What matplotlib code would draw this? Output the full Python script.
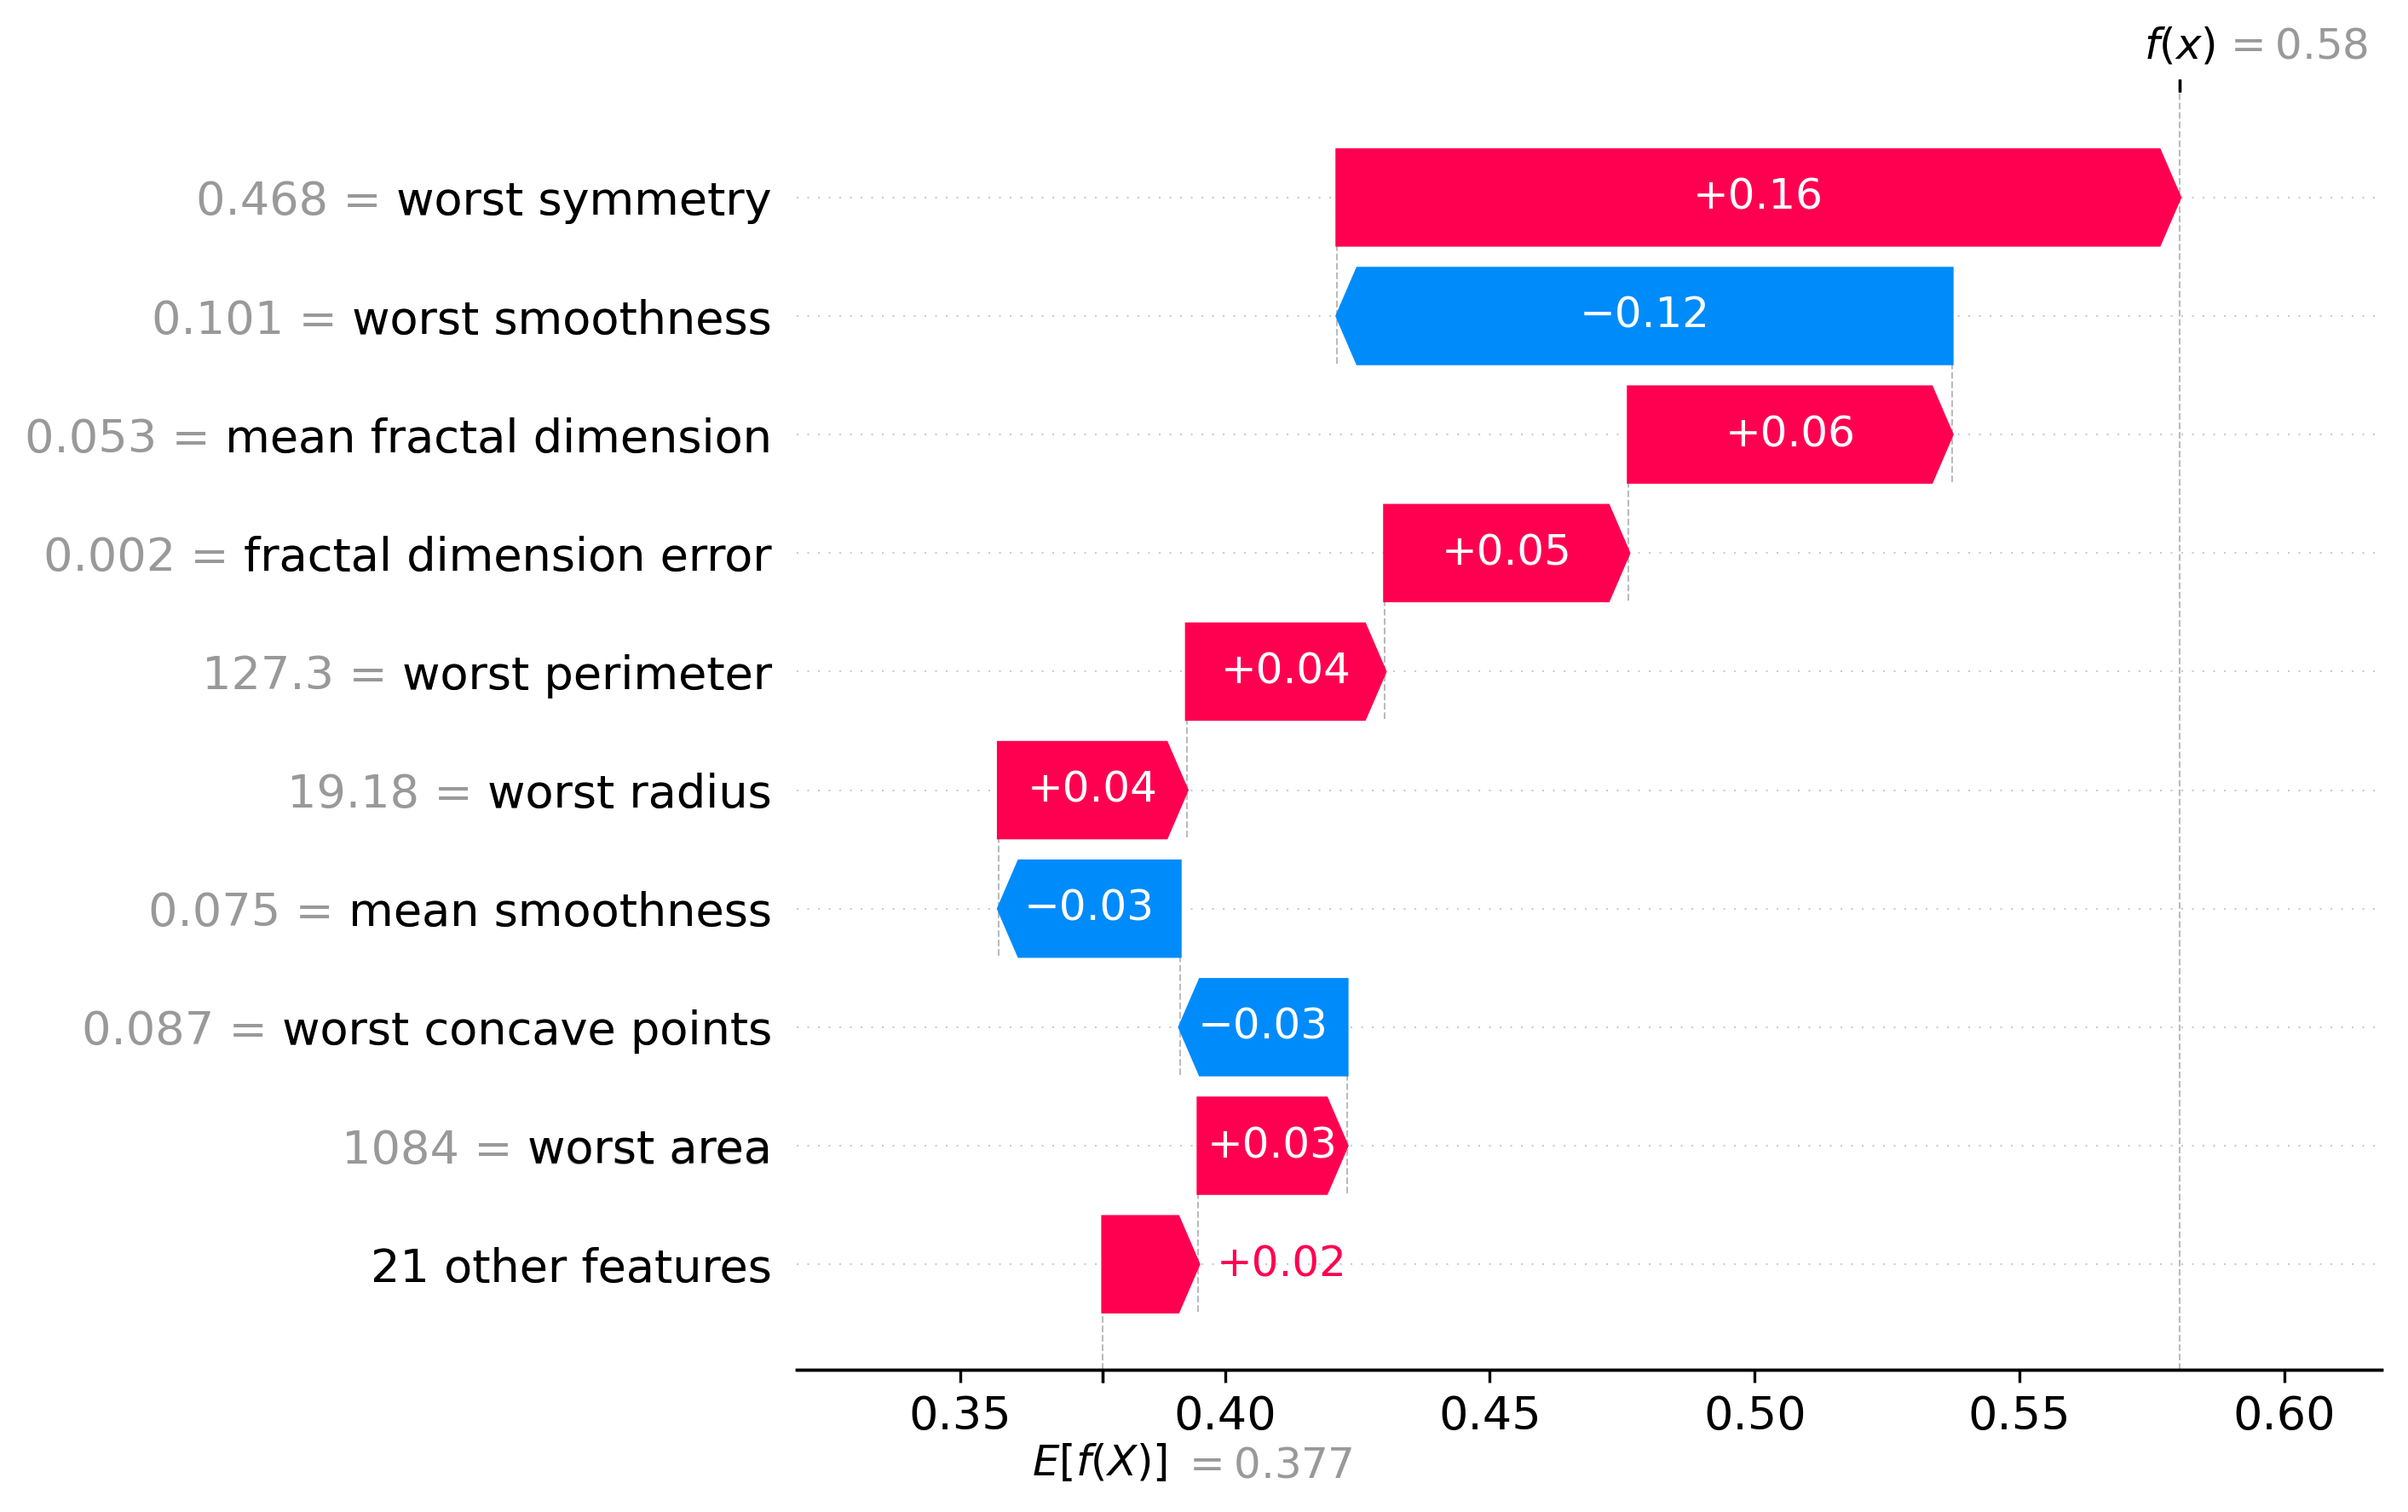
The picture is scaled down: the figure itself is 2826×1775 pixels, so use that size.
import re

import matplotlib
matplotlib.use("Agg")
import matplotlib.pyplot as plt
import matplotlib.transforms as mtransforms
import numpy as np

# SHAP waterfall for one sample (breast cancer model)
feature_names = ["worst symmetry", "worst smoothness", "mean fractal dimension",
                 "fractal dimension error", "worst perimeter", "worst radius",
                 "mean smoothness", "worst concave points", "worst area"]
feature_values = [0.468, 0.101, 0.053, 0.002, 127.3, 19.18, 0.075, 0.087, 1084]
shap_values = [0.159, -0.116, 0.061, 0.046, 0.0374, 0.0355, -0.0342, -0.0315, 0.028]
other_label = "21 other features"
other_value = 0.018
base_value = 0.377

red = "#ff0051"
blue = "#008bfb"


def format_value(s, format_str):
    # same trimming as shap: drop trailing zeros, use a real minus sign
    s = format_str % s
    s = re.sub(r"\.?0+$", "", s)
    if s[0] == "-":
        s = "\u2212" + s[1:]
    return s


num_features = len(feature_names) + 1
rng = list(range(num_features - 1, -1, -1))
fx = base_value + sum(shap_values) + other_value

fig = plt.figure(figsize=(2826 / 300, 1775 / 300), dpi=300)
ax = fig.add_axes([935 / 2826, 167 / 1775, 1860 / 2826, 1500 / 1775])

pos_inds, pos_widths, pos_lefts = [], [], []
neg_inds, neg_widths, neg_lefts = [], [], []
yticklabels = ["" for _ in range(num_features + 1)]

# walk down from f(x), one feature per row
loc = fx
for i in range(len(feature_names)):
    sval = shap_values[i]
    loc -= sval
    if sval >= 0:
        pos_inds.append(rng[i])
        pos_widths.append(sval)
        pos_lefts.append(loc)
    else:
        neg_inds.append(rng[i])
        neg_widths.append(sval)
        neg_lefts.append(loc)
    ax.plot([loc, loc], [rng[i] - 1 - 0.4, rng[i] + 0.4],
            color="#bbbbbb", linestyle="--", linewidth=0.5, zorder=-1)
    yticklabels[rng[i]] = format_value(float(feature_values[i]), "%0.03f") + " = " + feature_names[i]

# the grouped remainder sits on the bottom row
yticklabels[0] = other_label
if other_value >= 0:
    pos_inds.append(0)
    pos_widths.append(other_value)
    pos_lefts.append(base_value)
else:
    neg_inds.append(0)
    neg_widths.append(other_value)
    neg_lefts.append(base_value)

points = pos_lefts + list(np.array(pos_lefts) + np.array(pos_widths)) + \
    neg_lefts + list(np.array(neg_lefts) + np.array(neg_widths))
dataw = np.max(points) - np.min(points)

# invisible bars, only used to size the axes
label_padding = np.array([0.1 * dataw if w < 1 else 0 for w in pos_widths])
ax.barh(pos_inds, np.array(pos_widths) + label_padding + 0.02 * dataw,
        left=np.array(pos_lefts) - 0.01 * dataw, color=red, alpha=0)
label_padding = np.array([-0.1 * dataw if -w < 1 else 0 for w in neg_widths])
ax.barh(neg_inds, np.array(neg_widths) + label_padding - 0.02 * dataw,
        left=np.array(neg_lefts) + 0.01 * dataw, color=blue, alpha=0)

head_length = 0.08
bar_width = 0.8
xlen = ax.get_xlim()[1] - ax.get_xlim()[0]
bbox = ax.get_window_extent().transformed(fig.dpi_scale_trans.inverted())
bbox_to_xscale = xlen / bbox.width
hl_scaled = bbox_to_xscale * head_length
renderer = fig.canvas.get_renderer()

# positive arrows
for i in range(len(pos_inds)):
    dist = pos_widths[i]
    arrow_obj = ax.arrow(pos_lefts[i], pos_inds[i], max(dist - hl_scaled, 0.000001), 0,
                         head_length=min(dist, hl_scaled), color=red,
                         width=bar_width, head_width=bar_width)
    txt_obj = ax.text(pos_lefts[i] + 0.5 * dist, pos_inds[i], format_value(dist, "%+0.02f"),
                      ha="center", va="center", color="white", fontsize=12)
    text_bbox = txt_obj.get_window_extent(renderer=renderer)
    arrow_bbox = arrow_obj.get_window_extent(renderer=renderer)
    if text_bbox.width > arrow_bbox.width:
        txt_obj.remove()
        ax.text(pos_lefts[i] + (5 / 72) * bbox_to_xscale + dist, pos_inds[i],
                format_value(dist, "%+0.02f"), ha="left", va="center", color=red, fontsize=12)

# negative arrows
for i in range(len(neg_inds)):
    dist = neg_widths[i]
    arrow_obj = ax.arrow(neg_lefts[i], neg_inds[i], -max(-dist - hl_scaled, 0.000001), 0,
                         head_length=min(-dist, hl_scaled), color=blue,
                         width=bar_width, head_width=bar_width)
    txt_obj = ax.text(neg_lefts[i] + 0.5 * dist, neg_inds[i], format_value(dist, "%+0.02f"),
                      ha="center", va="center", color="white", fontsize=12)
    text_bbox = txt_obj.get_window_extent(renderer=renderer)
    arrow_bbox = arrow_obj.get_window_extent(renderer=renderer)
    if text_bbox.width > arrow_bbox.width:
        txt_obj.remove()
        ax.text(neg_lefts[i] - (5 / 72) * bbox_to_xscale + dist, neg_inds[i],
                format_value(dist, "%+0.02f"), ha="right", va="center", color=blue, fontsize=12)

# y labels drawn twice: gray "value = name", then black name on top
ytick_pos = list(range(num_features)) + list(np.arange(num_features) + 1e-8)
ax.set_yticks(ytick_pos)
ax.set_yticklabels(yticklabels[:-1] + [label.split("=")[-1] for label in yticklabels[:-1]], fontsize=13)

for i in range(num_features):
    ax.axhline(i, color="#cccccc", lw=0.5, dashes=(1, 5), zorder=-1)

ax.axvline(base_value, 0, 1 / num_features, color="#bbbbbb", linestyle="--", linewidth=0.5, zorder=-1)
ax.axvline(fx, 0, 1, color="#bbbbbb", linestyle="--", linewidth=0.5, zorder=-1)

ax.xaxis.set_ticks_position("bottom")
ax.yaxis.set_ticks_position("none")
ax.spines["right"].set_visible(False)
ax.spines["top"].set_visible(False)
ax.spines["left"].set_visible(False)
ax.tick_params(labelsize=13)

# E[f(X)] tick at the bottom
xmin, xmax = ax.get_xlim()
ax2 = ax.twiny()
ax2.set_xlim(xmin, xmax)
ax2.set_xticks([base_value, base_value + 1e-8])
ax2.set_xticklabels(["\n$E[f(X)]$", "\n$ = " + format_value(base_value, "%0.03f") + "$"],
                    fontsize=12, ha="left")
ax2.spines["right"].set_visible(False)
ax2.spines["top"].set_visible(False)
ax2.spines["left"].set_visible(False)

# f(x) tick at the top
ax3 = ax2.twiny()
ax3.set_xlim(xmin, xmax)
ax3.set_xticks([fx, fx + 1e-8])
ax3.set_xticklabels(["$f(x)$", "$ = " + format_value(fx, "%0.03f") + "$"], fontsize=12, ha="left")
tick_labels = ax3.xaxis.get_majorticklabels()
tick_labels[0].set_transform(tick_labels[0].get_transform() +
                             mtransforms.ScaledTranslation(-10 / 72., 0, fig.dpi_scale_trans))
tick_labels[1].set_transform(tick_labels[1].get_transform() +
                             mtransforms.ScaledTranslation(12 / 72., 0, fig.dpi_scale_trans))
tick_labels[1].set_color("#999999")
ax3.spines["right"].set_visible(False)
ax3.spines["top"].set_visible(False)
ax3.spines["left"].set_visible(False)

tick_labels = ax2.xaxis.get_majorticklabels()
tick_labels[0].set_transform(tick_labels[0].get_transform() +
                             mtransforms.ScaledTranslation(-20 / 72., 0, fig.dpi_scale_trans))
tick_labels[1].set_transform(tick_labels[1].get_transform() +
                             mtransforms.ScaledTranslation(22 / 72., -1 / 72., fig.dpi_scale_trans))
tick_labels[1].set_color("#999999")

tick_labels = ax.yaxis.get_majorticklabels()
for i in range(num_features):
    tick_labels[i].set_color("#999999")

fig.savefig("out.png", dpi=300)
